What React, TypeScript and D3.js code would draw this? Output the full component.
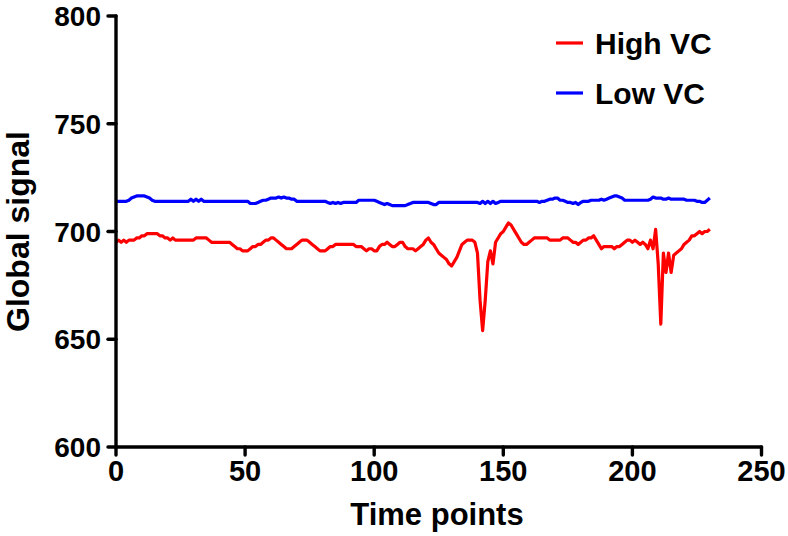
import React from "react";
import * as d3 from "d3";

const seriesNames = ["High VC", "Low VC"];
const seriesColors = ["#ff0000", "#0000ff"];
const xTicks = [0, 50, 100, 150, 200, 250];
const yTicks = [600, 650, 700, 750, 800];

// Global signal, High VC, time points 0..230
const highVC = [
  695, 696, 695, 696, 695, 696, 696, 696, 697, 697,
  698, 698, 699, 699, 699, 699, 699, 698, 698, 697,
  697, 696, 697, 696, 696, 696, 696, 696, 696, 696,
  696, 697, 697, 697, 697, 697, 696, 695, 695, 695,
  695, 695, 695, 695, 695, 694, 693, 692, 692, 691,
  691, 691, 692, 693, 693, 694, 694, 695, 696, 696,
  697, 697, 696, 695, 694, 693, 692, 692, 692, 693,
  694, 695, 696, 696, 696, 695, 694, 693, 692, 691,
  691, 691, 692, 693, 693, 694, 694, 694, 694, 694,
  694, 694, 694, 693, 693, 693, 692, 691, 692, 692,
  691, 691, 693, 694, 694, 695, 694, 693, 693, 694,
  695, 695, 693, 692, 692, 692, 691, 692, 693, 694,
  696, 697, 695, 694, 692, 690, 689, 688, 687, 685,
  684, 686, 688, 691, 694, 695, 696, 696, 696, 695,
  690, 668, 654, 668, 686, 691, 685, 695, 697, 699,
  700, 702, 704, 703, 701, 699, 697, 695, 694, 694,
  695, 696, 697, 697, 697, 697, 697, 697, 696, 696,
  696, 696, 696, 697, 697, 697, 696, 695, 695, 694,
  695, 696, 696, 697, 697, 698, 696, 694, 692, 693,
  693, 693, 693, 692, 693, 693, 694, 695, 696, 696,
  695, 696, 695, 694, 695, 694, 692, 696, 692, 701,
  685, 657, 690, 681, 690, 681, 689, 690, 691, 692,
  694, 695, 696, 698, 698, 699, 700, 699, 700, 700,
  701,
];

// Global signal, Low VC, time points 0..230
const lowVC = [
  714, 714, 714, 714, 714, 714.5, 715.5, 716, 716.5, 716.5,
  716.5, 716.5, 716, 715.5, 714.5, 714, 714, 714, 714, 714,
  714, 714, 714, 714, 714, 714, 714, 714, 714, 715,
  714, 715, 714, 715, 714, 714, 714, 714, 714, 714,
  714, 714, 714, 714, 714, 714, 714, 714, 714, 714,
  714, 714, 713, 713, 713, 713.5, 714, 714.5, 714.5, 715,
  715.5, 715.5, 715.5, 716, 715.5, 716, 715.5, 715.5, 715, 715,
  714, 714, 714, 714, 714, 714, 714, 714, 714, 714,
  714, 714, 713.5, 713, 713.5, 713, 713.5, 713, 713.5, 713.5,
  713.5, 713.5, 713.5, 713.5, 714.5, 714.5, 714.5, 714.5, 714.5, 714.5,
  714.5, 714, 713.5, 713, 712.5, 713, 712.5, 712, 712, 712,
  712, 712, 712, 712.5, 713, 713.5, 713.5, 713.5, 713.5, 713.5,
  713.5, 713.5, 713, 712.5, 712.5, 713.5, 713.5, 713.5, 713.5, 713.5,
  713.5, 713.5, 713.5, 713.5, 713.5, 713.5, 713.5, 713.5, 713.5, 713.5,
  713.5, 713, 714, 713, 714, 713, 714, 713, 713.5, 714,
  714, 714, 714, 714, 714, 714, 714, 714, 714, 714,
  714, 714, 714, 714, 713.5, 714, 714, 714.5, 715, 715,
  715.5, 715.5, 714.5, 714.5, 714, 713.5, 713.5, 713, 713.5, 712.5,
  713.5, 714, 714, 714, 714.5, 714.5, 714.5, 714.5, 715, 714.5,
  715, 715.5, 716, 716.5, 716.5, 716, 715.5, 714.5, 714.5, 714.5,
  714.5, 714.5, 714.5, 714.5, 714.5, 714.5, 714.5, 715, 716, 715.5,
  715.5, 715.5, 715, 715, 715.5, 715, 715, 715, 715, 715,
  715, 714.5, 714.5, 714.5, 714.5, 714, 714, 713.5, 713.5, 714.5,
  715.5,
];

const W = 788;
const H = 536;

export default function App() {
  const x = d3.scaleLinear().domain([0, 250]).range([116, 761.5]);
  const y = d3.scaleLinear().domain([600, 800]).range([447, 16]);
  const line = d3
    .line<number>()
    .x((_, i) => x(i))
    .y((d) => y(d));
  const series = [highVC, lowVC];
  const font = "'Liberation Sans', Arial, Helvetica, sans-serif";

  return (
    <svg
      width={W}
      height={H}
      style={{ position: "absolute", left: 0, top: 0, background: "#fff" }}
      fontFamily={font}
      fontWeight="bold"
    >
      {series.map((s, k) => (
        <path
          key={k}
          d={line(s) || ""}
          fill="none"
          stroke={seriesColors[k]}
          strokeWidth={3.2}
          strokeLinejoin="round"
        />
      ))}
      {/* y axis */}
      <line x1={x(0)} x2={x(0)} y1={y(800)} y2={y(600)} stroke="#000" strokeWidth={3.4} strokeLinecap="round" />
      {yTicks.map((t) => (
        <g key={t}>
          <line x1={x(0) - 8} x2={x(0)} y1={y(t)} y2={y(t)} stroke="#000" strokeWidth={3.4} strokeLinecap="round" />
          <text x={x(0) - 15} y={y(t)} dy="0.36em" textAnchor="end" fontSize={28}>
            {t}
          </text>
        </g>
      ))}
      {/* x axis */}
      <line x1={x(0)} x2={x(250)} y1={y(600)} y2={y(600)} stroke="#000" strokeWidth={3.4} strokeLinecap="round" />
      {xTicks.map((t) => (
        <g key={t}>
          <line x1={x(t)} x2={x(t)} y1={y(600)} y2={y(600) + 8} stroke="#000" strokeWidth={3.4} strokeLinecap="round" />
          <text x={x(t)} y={y(600) + 34} textAnchor="middle" fontSize={29}>
            {t}
          </text>
        </g>
      ))}
      <text x={437} y={525} textAnchor="middle" fontSize={31}>
        Time points
      </text>
      <text
        transform={`translate(29, ${y(700)}) rotate(-90)`}
        textAnchor="middle"
        fontSize={32}
      >
        Global signal
      </text>
      {/* legend */}
      {seriesNames.map((n, k) => (
        <g key={n}>
          <line x1={556} x2={583} y1={43 + k * 50} y2={43 + k * 50} stroke={seriesColors[k]} strokeWidth={3.2} />
          <text x={595} y={43 + k * 50} dy="0.36em" fontSize={30}>
            {n}
          </text>
        </g>
      ))}
    </svg>
  );
}
